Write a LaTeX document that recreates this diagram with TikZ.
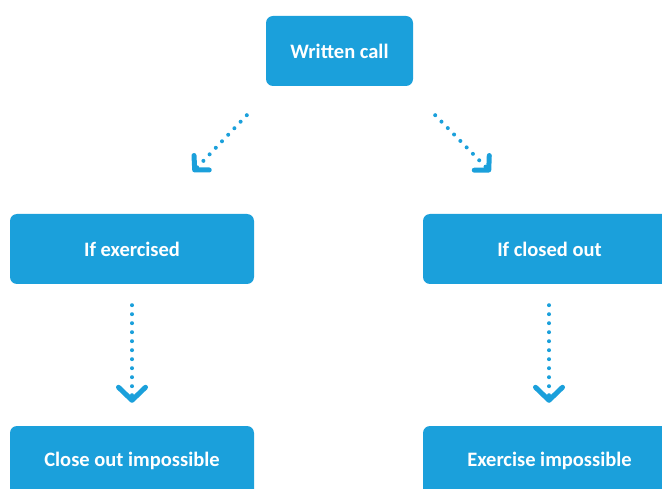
\documentclass[tikz,border=0pt]{standalone}
\usepackage{fontspec}
\setmainfont{Carlito}
\usetikzlibrary{calc,arrows.meta,positioning}
\definecolor{boxColor}{RGB}{27,160,219}
\newcommand{\boxfont}{\fontsize{20.5}{24}\selectfont\bfseries}

\begin{document}
\begin{tikzpicture}[x=1pt, y=-1pt,
        box/.style={fill=boxColor, rounded corners=7pt, minimum width=244pt, minimum height=70pt, inner sep=0pt, align=center, text=white, font=\boxfont},
        dotarr/.style={boxColor, line width=4pt, line cap=round, dash pattern=on 0pt off 9pt},
        bigtip/.style={-{Straight Barb[round, line width=5pt, length=13pt, width=27pt]}},
        smalltip/.style={-{Straight Barb[round, line width=5pt, length=10pt, width=21pt]}}
      ]
      \clip (0,0) rectangle (662,489);
      \node[box, minimum width=147pt] (call) at (339.5,51) {Written call};
      \node[box] (exer) at (132,249) {If exercised};
      \node[box, minimum width=253pt] (clsd) at (549.5,249) {If closed out};
      \node[box] (noclose) at (132,461) {Close out impossible};
      \node[box, minimum width=253pt] (noexer) at (549.5,461) {Exercise impossible};

      % free ends of the dotted arrows
      \coordinate (lfrom) at ($(call.south west)+(-19,29)$);
      \coordinate (lto) at ($(exer.north)+(61,-42)$);
      \coordinate (rfrom) at ($(call.south east)+(22,29)$);
      \coordinate (rto) at ($(clsd.north)+(-59,-42)$);
      \coordinate (efrom) at ($(exer.south)+(0,21)$);
      \coordinate (eto) at ($(noclose.north)+(0,-23)$);
      \coordinate (cfrom) at ($(clsd.south)+(-0.5,21)$);
      \coordinate (cto) at ($(noexer.north)+(-0.5,-23)$);

      \draw[dotarr, smalltip] (lfrom) -- (lto);
      \draw[dotarr, smalltip] (rfrom) -- (rto);
      \draw[dotarr, bigtip] (efrom) -- (eto);
      \draw[dotarr, bigtip] (cfrom) -- (cto);
    \end{tikzpicture}
\end{document}
